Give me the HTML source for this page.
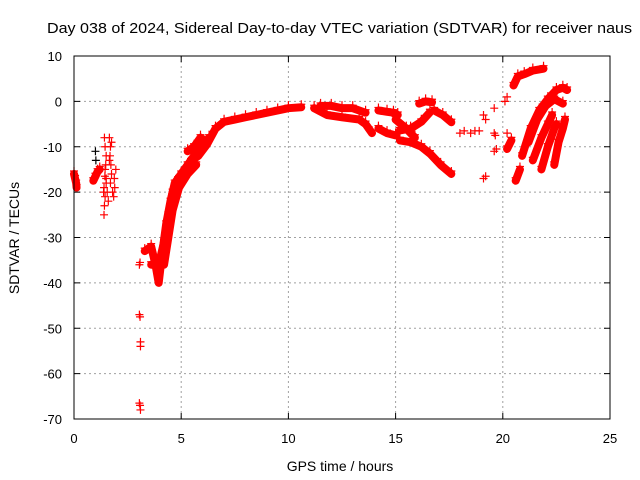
<!DOCTYPE html>
<html><head><meta charset="utf-8"><style>
body{margin:0;background:#fff;}
svg{display:block;font-family:"Liberation Sans",sans-serif;}
</style></head><body>
<svg id="c" width="640" height="480" viewBox="0 0 640 480"></svg>
<script>
const xTicks=[0,5,10,15,20,25];
const yTicks=[10,0,-10,-20,-30,-40,-50,-60,-70];
const titleText="Day 038 of 2024, Sidereal Day-to-day VTEC variation (SDTVAR) for receiver naus";
// arcs: [hours, TECU]
const arcA=[[0,-16],[0.05,-17],[0.1,-18],[0.12,-19]];
const arcB=[[0.9,-17.5],[1.0,-16.5],[1.1,-15.5],[1.2,-15]];
const ptsC=[[1.4,-25],[1.42,-23],[1.45,-21],[1.4,-19],[1.5,-17],[1.45,-15],[1.48,-14],[1.5,-18],[1.55,-20],[1.44,-16.5],[1.38,-20],[1.45,-10],[1.42,-8],[1.5,-12]];
const ptsD=[[1.65,-8],[1.7,-10],[1.68,-12],[1.72,-14],[1.75,-16],[1.7,-18],[1.8,-20],[1.85,-21],[1.9,-19],[1.95,-15],[1.75,-9],[1.6,-22],[1.88,-17],[1.65,-13]];
const ptsBlack=[[1.0,-11],[1.02,-13]];
const ptsE=[[3.05,-36],[3.08,-35.5],[3.05,-47],[3.08,-47.5],[3.1,-53],[3.1,-54],[3.08,-67],[3.1,-68],[3.05,-66.5]];
const arcF1=[[3.3,-33],[3.6,-32],[3.8,-36],[3.95,-40],[4.1,-34],[4.3,-27],[4.5,-22],[4.7,-18],[5.0,-16],[5.3,-14],[5.6,-12],[6.0,-10],[6.3,-8]];
const arcF2=[[4.0,-35],[4.2,-31],[4.4,-25],[4.6,-20],[4.9,-17],[5.2,-15],[5.5,-13],[5.8,-12],[6.2,-9.5],[6.6,-6],[7.0,-4.5],[7.5,-4],[8,-3.5],[8.5,-3],[9,-2.5],[9.5,-2],[10,-1.5],[10.6,-1.3]];
const arcF3=[[3.6,-36],[3.9,-36],[4.2,-36],[4.4,-30],[4.6,-24],[4.9,-19],[5.3,-16],[5.7,-14]];
const arcF4=[[5.3,-11],[5.6,-10],[5.9,-8],[6.2,-9]];
const arcH1=[[11.2,-1.5],[11.8,-3],[12.5,-3.5],[13.3,-4],[13.6,-5],[13.9,-7]];
const arcH2=[[11.5,-1],[12,-1],[12.5,-1.5],[13,-1.5],[13.6,-2.5]];
const arcH3=[[14.2,-2],[14.6,-2.3],[14.9,-2.5],[15.1,-3]];
const arcH4=[[14.2,-6],[14.6,-7],[15.0,-7.5]];
const arcH5=[[15.2,-8.6],[15.7,-9],[16.2,-10],[16.6,-11.5],[17.1,-14],[17.6,-16]];
const arcH6=[[15.2,-6.4],[15.7,-6],[16.2,-4.5],[16.6,-2.4]];
const arcH7=[[15.0,-4],[15.5,-6],[15.9,-8]];
const arcH8=[[16.1,-0.5],[16.4,0],[16.7,-0.2]];
const arcH9=[[16.8,-2],[17.2,-3],[17.6,-4.6]];
const ptsI=[[18.0,-7],[18.2,-6.5],[18.5,-7],[18.7,-6.5],[18.9,-6.5],[19.1,-3],[19.6,-1.5],[19.2,-4],[19.6,-7],[19.65,-7.5],[19.6,-11],[19.7,-10.5],[19.1,-17],[19.2,-16.5],[20.2,-7],[20.1,0],[20.2,1]];
const arcJ1=[[20.5,3.5],[20.7,5.5],[21.0,6],[21.4,6.8],[21.9,7.2]];
const arcJ2=[[20.2,-10.5],[20.4,-8.6]];
const arcJ3=[[20.6,-17.5],[20.8,-15]];
const arcG1=[[20.9,-12],[21.3,-6],[21.7,-2],[22.1,0.5],[22.5,2.5],[22.8,3],[23.0,2.5]];
const arcG2=[[21.2,-9],[21.6,-4],[22.0,-1],[22.4,0.5],[22.8,-0.5]];
const arcG3=[[21.4,-13],[21.8,-8],[22.1,-5],[22.3,-3]];
const arcG4=[[21.8,-15],[22.1,-10],[22.4,-6],[22.5,-5]];
const arcG5=[[22.4,-14],[22.6,-9],[22.8,-6],[22.9,-4]];

const arcs=[arcA,arcB,arcF1,arcF2,arcF3,arcF4,arcH1,arcH2,arcH3,arcH4,arcH5,arcH6,arcH7,arcH8,arcH9,arcJ1,arcJ2,arcJ3,arcG1,arcG2,arcG3,arcG4,arcG5];
const pointSets=[ptsC,ptsD,ptsE,ptsI];

const L=74,R=610,T=56,B=419;
const xS=v=>L+(v-0)/25*(R-L);
const yS=v=>T+(10-v)/80*(B-T);
const svg=document.getElementById('c');
const NS='http://www.w3.org/2000/svg';
function mk(tag,attrs,parent){const e=document.createElementNS(NS,tag);for(const k in attrs)e.setAttribute(k,attrs[k]);(parent||svg).appendChild(e);return e;}

const grid=mk('g',{});


xTicks.forEach(t=>{if(t>0&&t<25)mk('line',{x1:xS(t),x2:xS(t),y1:T,y2:B,stroke:'#a0a0a0','stroke-dasharray':'2,3'},grid);});
yTicks.forEach(t=>{if(t<10&&t>-70)mk('line',{x1:L,x2:R,y1:yS(t),y2:yS(t),stroke:'#a0a0a0','stroke-dasharray':'2,3'},grid);});

const marks=mk('g',{});


function plus(x,y,col,g){mk('path',{d:`M${x-4} ${y}h8M${x} ${y-4}v8`,stroke:col,'stroke-width':1.2,fill:'none'},g);}
arcs.forEach(a=>{
  const p=mk('polyline',{points:a.map(d=>xS(d[0])+','+yS(d[1])).join(' '),fill:'none',stroke:'#ff0000','stroke-width':8,'stroke-linecap':'round','stroke-linejoin':'round'},marks);
  
  
  a.forEach(d=>plus(xS(d[0]),yS(d[1])-3,'#ff0000',marks));
});
pointSets.forEach(s=>s.forEach(d=>plus(xS(d[0]),yS(d[1]),'#ff0000',marks)));
ptsBlack.forEach(d=>plus(xS(d[0]),yS(d[1]),'#000000',marks));

const ax=mk('g',{});


mk('rect',{x:L,y:T,width:R-L,height:B-T,fill:'none',stroke:'#000','stroke-width':1},ax);
xTicks.forEach(t=>{
  mk('line',{x1:xS(t),x2:xS(t),y1:B,y2:B-6,stroke:'#000'},ax);
  mk('line',{x1:xS(t),x2:xS(t),y1:T,y2:T+6,stroke:'#000'},ax);
  const tx=mk('text',{x:xS(t),y:443,'text-anchor':'middle','font-size':13},ax);tx.textContent=t;
  
  
});
yTicks.forEach(t=>{
  mk('line',{x1:L,x2:L+6,y1:yS(t),y2:yS(t),stroke:'#000'},ax);
  mk('line',{x1:R,x2:R-6,y1:yS(t),y2:yS(t),stroke:'#000'},ax);
  const tx=mk('text',{x:62,y:yS(t)+5,'text-anchor':'end','font-size':13},ax);tx.textContent=t;
  
  
});
const ti=mk('text',{x:47,y:33,'font-size':15,textLength:585,lengthAdjust:'spacingAndGlyphs'});ti.textContent=titleText;


const xl=mk('text',{x:340,y:471,'text-anchor':'middle','font-size':14});xl.textContent='GPS time / hours';


const yl=mk('text',{x:0,y:0,'text-anchor':'middle','font-size':14,transform:'translate(19,238) rotate(-90)'});yl.textContent='SDTVAR / TECUs';


</script>
</body></html>
